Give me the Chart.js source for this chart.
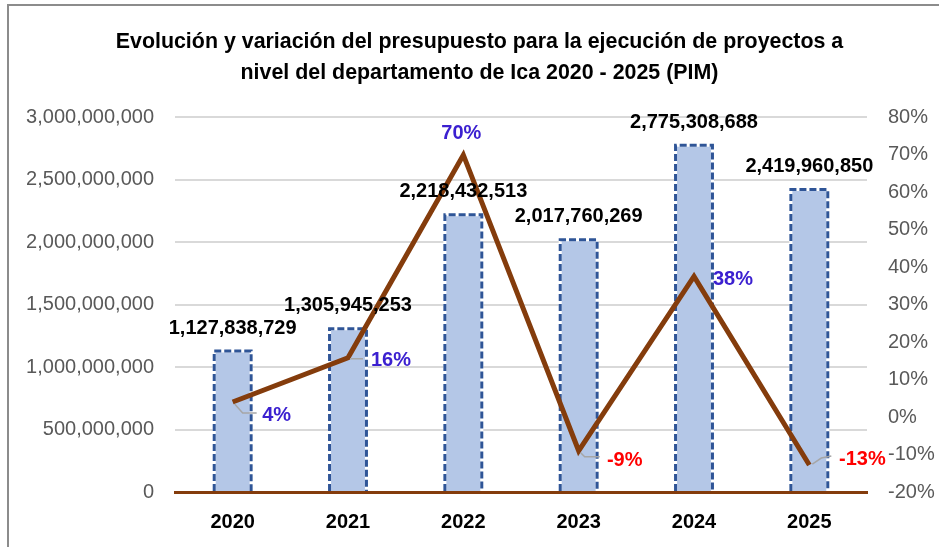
<!DOCTYPE html>
<html>
<head>
<meta charset="utf-8">
<script src="https://cdn.jsdelivr.net/npm/chart.js@4.4.1/dist/chart.umd.min.js"></script>
<style>
  body { margin: 0; background: #fff; }
  #wrap { position: relative; width: 939px; height: 547px; overflow: hidden; }
  #frame { position: absolute; left: 7px; top: 4px; width: 960px; height: 560px;
           border-top: 2px solid #8c8c8c; border-left: 2px solid #8c8c8c; }
  canvas { position: absolute; left: 0; top: 0; }
</style>
</head>
<body>
<div id="wrap">
  <canvas id="chart" width="939" height="547"></canvas>
  <div id="frame"></div>
</div>
<script>
var years = ['2020', '2021', '2022', '2023', '2024', '2025'];
var budget = [1127838729, 1305945253, 2218432513, 2017760269, 2775308688, 2419960850];
var variation = [4, 15.8, 69.9, -9.0, 37.5, -12.8];
var titleLines = [
    'Evolución y variación del presupuesto para la ejecución de proyectos a',
    'nivel del departamento de Ica 2020 - 2025 (PIM)'
];

Chart.defaults.font.family = '"Liberation Sans", Arial, sans-serif';

// where the percent labels sit relative to their point, and their leader lines
var pctOffset = [[44, 13], [43, 3], [-2, -21], [46, 10], [39, 3], [53, -6]];
var leaders = [
    [[2, 2], [10, 11], [24, 11]],
    [[2, 1], [15, 1]],
    null,
    [[2, 2], [6, 6], [21, 6]],
    null,
    [[3, -1], [12, -7], [22, -9]]
];

var labelPlugin = {
    id: 'customLabels',
    afterDatasetDraw: function(chart, args) {
        if (args.index !== 0) return;
        var ctx = chart.ctx;
        args.meta.data.forEach(function(bar) {
            var x0 = bar.x - bar.width / 2, x1 = bar.x + bar.width / 2;
            ctx.save();
            ctx.lineWidth = 3;
            ctx.beginPath();
            ctx.moveTo(x0, bar.base);
            ctx.lineTo(x0, bar.y);
            ctx.lineTo(x1, bar.y);
            ctx.lineTo(x1, bar.base);
            ctx.strokeStyle = '#ffffff';
            ctx.stroke();
            ctx.setLineDash([7, 3]);
            ctx.strokeStyle = '#2F5597';
            ctx.stroke();
            ctx.restore();
        });
    },
    afterDatasetsDraw: function(chart) {
        var ctx = chart.ctx;
        ctx.save();
        ctx.textAlign = 'center';
        ctx.textBaseline = 'middle';
        ctx.font = 'bold 20px "Liberation Sans", Arial, sans-serif';

        // budget values above the bars
        chart.getDatasetMeta(0).data.forEach(function(bar, i) {
            ctx.fillStyle = '#000000';
            ctx.fillText(budget[i].toLocaleString('en-US'), bar.x, bar.y - 23);
        });

        // percent labels next to the line points
        chart.getDatasetMeta(1).data.forEach(function(pt, i) {
            var lead = leaders[i];
            if (lead) {
                ctx.beginPath();
                ctx.moveTo(pt.x + lead[0][0], pt.y + lead[0][1]);
                for (var k = 1; k < lead.length; k++) {
                    ctx.lineTo(pt.x + lead[k][0], pt.y + lead[k][1]);
                }
                ctx.strokeStyle = '#A6A6A6';
                ctx.lineWidth = 1.5;
                ctx.stroke();
            }
            ctx.fillStyle = variation[i] < 0 ? '#FF0000' : '#3B20D0';
            ctx.fillText(Math.round(variation[i]) + '%', pt.x + pctOffset[i][0], pt.y + pctOffset[i][1]);
        });
        ctx.restore();
    }
};

var ctx = document.getElementById('chart').getContext('2d');
var chart = new Chart(ctx, {
    type: 'bar',
    data: {
        labels: years,
        datasets: [{
            type: 'bar',
            label: 'PIM',
            data: budget,
            yAxisID: 'y',
            backgroundColor: '#B4C7E7',
            borderWidth: 0,
            barPercentage: 0.32,
            categoryPercentage: 1,
            order: 1
        }, {
            type: 'line',
            label: 'Variación',
            data: variation,
            yAxisID: 'y1',
            borderColor: '#843C0C',
            borderWidth: 5,
            pointRadius: 0,
            tension: 0,
            order: 0
        }]
    },
    options: {
        responsive: false,
        animation: false,
        layout: { padding: { left: 20, right: 0, top: 0, bottom: 0 } },
        plugins: {
            legend: { display: false },
            tooltip: { enabled: false },
            title: {
                display: true,
                text: titleLines,
                color: '#000000',
                font: { size: 21.4, weight: 'bold', lineHeight: 1.45 },
                padding: { top: 27, bottom: 28 }
            }
        },
        scales: {
            x: {
                grid: { display: false, drawTicks: false },
                border: { display: true, color: '#843C0C', width: 3 },
                ticks: { color: '#000000', font: { size: 20, weight: 'bold' }, padding: 18 },
                afterFit: function(s) { s.height = 55; }
            },
            y: {
                position: 'left',
                min: 0,
                max: 3000000000,
                grid: { color: '#D9D9D9', lineWidth: 2, drawTicks: false },
                border: { display: false },
                ticks: {
                    stepSize: 500000000,
                    color: '#595959',
                    font: { size: 20 },
                    padding: 21,
                    callback: function(v) { return v.toLocaleString('en-US'); }
                },
                afterFit: function(s) { s.width = 155; }
            },
            y1: {
                position: 'right',
                min: -20,
                max: 80,
                grid: { display: false, drawTicks: false },
                border: { display: false },
                ticks: {
                    stepSize: 10,
                    color: '#595959',
                    font: { size: 20 },
                    padding: 21,
                    callback: function(v) { return v + '%'; }
                },
                afterFit: function(s) { s.width = 72; }
            }
        }
    },
    plugins: [labelPlugin]
});
</script>
</body>
</html>
